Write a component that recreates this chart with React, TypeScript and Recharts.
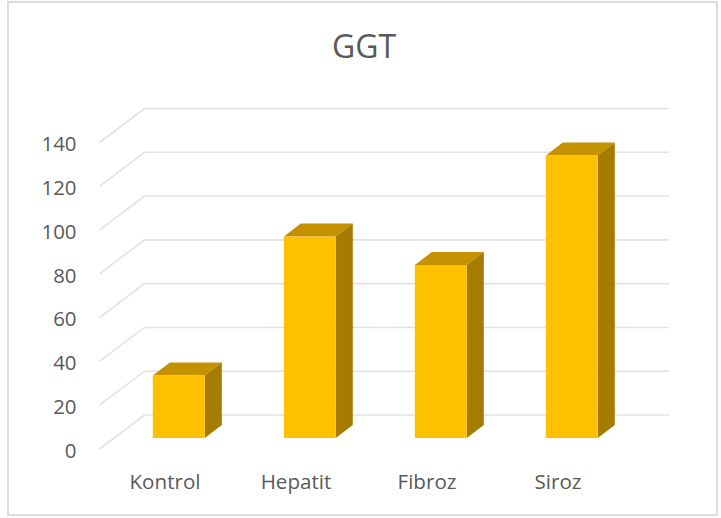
import { Bar, BarChart, CartesianGrid, XAxis, YAxis } from "recharts";

const categories = ["Kontrol", "Hepatit", "Fibroz", "Siroz"];
const ggtValues = [28.6, 92, 79, 129];
const yTicks = [0, 20, 40, 60, 80, 100, 120, 140];

const rows = categories.map((name, i) => ({ name, ggt: ggtValues[i] }));

const FONT = "'Open Sans', sans-serif";
const TEXT = "#595959";

// bars sit on the floor of the 3D box, a bit behind the front edge
const SHIFT_X = 13.3;
const SHIFT_Y = -11;
const DEPTH_X = 17;
const DEPTH_Y = -13;

function Bar3D(props: any) {
  const { x, y, width, height } = props;
  const l = x + SHIFT_X;
  const r = l + width;
  const t = y + SHIFT_Y;
  const b = t + height;
  return (
    <g>
      <polygon
        points={`${l},${t} ${r},${t} ${r + DEPTH_X},${t + DEPTH_Y} ${l + DEPTH_X},${t + DEPTH_Y}`}
        fill="#c49200"
      />
      <polygon
        points={`${r},${t} ${r + DEPTH_X},${t + DEPTH_Y} ${r + DEPTH_X},${b + DEPTH_Y} ${r},${b}`}
        fill="#a67c00"
      />
      <rect x={l} y={t} width={width} height={height} fill="#ffc000" />
    </g>
  );
}

function WallLine(props: any) {
  const { x1, x2, y1 } = props;
  const backX = x1 + 45;
  const backY = y1 - 34;
  return (
    <polyline
      points={`${x1},${y1} ${backX},${backY} ${x2 + 45.5},${backY}`}
      fill="none"
      stroke="#e2e2e2"
      strokeWidth={1.6}
    />
  );
}

export default function App() {
  return (
    <div style={{ position: "absolute", left: 0, top: 0, width: 721, height: 518, background: "#fff" }}>
      <div
        style={{
          position: "absolute",
          left: 7,
          top: 1,
          width: 711,
          height: 515,
          boxSizing: "border-box",
          border: "2px solid #dcdcdc",
        }}
      />
      <div
        style={{
          position: "absolute",
          left: 0,
          top: 26,
          width: 728,
          textAlign: "center",
          fontFamily: FONT,
          fontSize: 32,
          lineHeight: "40px",
          color: TEXT,
        }}
      >
        GGT
      </div>
      <div style={{ position: "absolute", left: 0, top: 0 }}>
        <BarChart
          width={721}
          height={518}
          data={rows}
          margin={{ top: 142.5, right: 97.5, bottom: 39, left: 0 }}
          barCategoryGap={0}
        >
          <CartesianGrid vertical={false} horizontal={(p: any) => <WallLine key={p.key ?? p.y1} {...p} />} />
          <XAxis
            dataKey="name"
            height={30}
            axisLine={false}
            tickLine={false}
            tickMargin={19}
            interval={0}
            tick={{ fill: TEXT, fontSize: 20.6, fontFamily: FONT }}
          />
          <YAxis
            width={99.5}
            domain={[0, 140]}
            ticks={yTicks}
            interval={0}
            axisLine={false}
            tickLine={false}
            tickMargin={17}
            tick={{ fill: TEXT, fontSize: 20.4, fontFamily: FONT, dy: 1.5 }}
          />
          <Bar dataKey="ggt" barSize={52} shape={Bar3D} isAnimationActive={false} />
        </BarChart>
      </div>
    </div>
  );
}
